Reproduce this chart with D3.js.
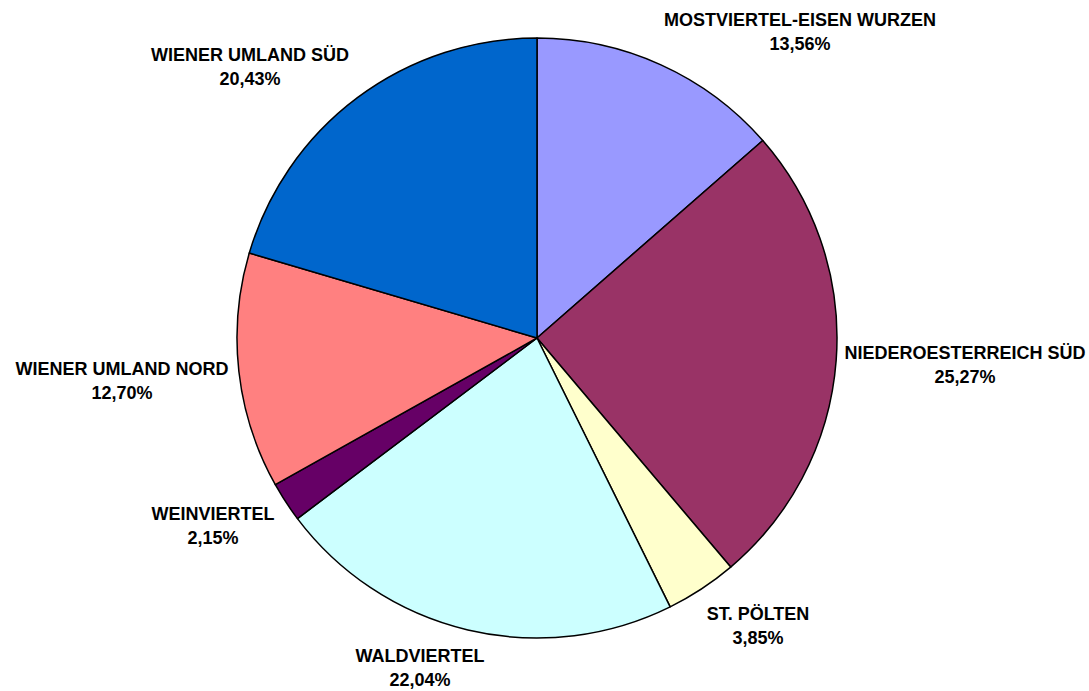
<!DOCTYPE html>
<html>
<head>
<meta charset="utf-8">
<script src="https://cdn.jsdelivr.net/npm/d3@7"></script>
<style>
  body { margin: 0; background: #fff; }
  svg { display: block; }
</style>
</head>
<body>
<div id="chart"></div>
<script>
// regions, clockwise from 12 o'clock
var regions = ["MOSTVIERTEL-EISEN WURZEN", "NIEDEROESTERREICH SÜD", "ST. PÖLTEN",
  "WALDVIERTEL", "WEINVIERTEL", "WIENER UMLAND NORD", "WIENER UMLAND SÜD"];
var shares = [13.56, 25.27, 3.85, 22.04, 2.15, 12.70, 20.43];
var shareLabels = ["13,56%", "25,27%", "3,85%", "22,04%", "2,15%", "12,70%", "20,43%"];

var colors = ["#9999FF", "#993366", "#FFFFCC", "#CCFFFF", "#660066", "#FF8080", "#0066CC"];

// label centre offsets from the pie centre (layout only)
var labelOffset = [[263, -307], [428, 26], [221, 287], [-117, 329], [-324, 187], [-415, 42], [-287, -272]];

var width = 1089, height = 691,
    cx = 537, cy = 338, radius = 300;

var svg = d3.select("#chart")
  .append("svg")
  .attr("width", width)
  .attr("height", height);

var g = svg.append("g")
  .attr("transform", "translate(" + cx + "," + cy + ")");

var pie = d3.pie()
  .sort(null)
  .value(function(d) { return d; });

var arc = d3.arc()
  .innerRadius(0)
  .outerRadius(radius);

g.selectAll("path")
  .data(pie(shares))
  .enter()
  .append("path")
    .attr("d", arc)
    .attr("fill", function(d, i) { return colors[i]; })
    .attr("stroke", "#000")
    .attr("stroke-width", 1.5)
    .attr("stroke-linejoin", "round");

// labels
var labels = g.selectAll("text.lbl")
  .data(regions)
  .enter()
  .append("text")
    .attr("class", "lbl")
    .attr("text-anchor", "middle")
    .attr("font-family", "Arial, 'Liberation Sans', sans-serif")
    .attr("font-weight", "bold")
    .attr("font-size", "18px")
    .attr("fill", "#000")
    .attr("transform", function(d, i) {
      return "translate(" + labelOffset[i][0] + "," + labelOffset[i][1] + ")";
    });

labels.append("tspan")
  .attr("x", 0)
  .attr("y", -5.5)
  .text(function(d) { return d; });

labels.append("tspan")
  .attr("x", 0)
  .attr("y", 18.5)
  .text(function(d, i) { return shareLabels[i]; });
</script>
</body>
</html>
